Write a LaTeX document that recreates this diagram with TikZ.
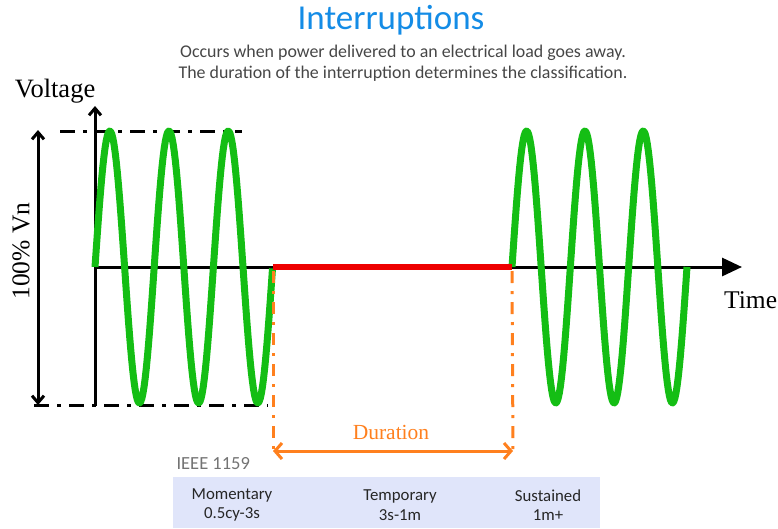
\documentclass[tikz,border=0pt]{standalone}
\usepackage{fontspec}
\setmainfont{Liberation Serif}
\setsansfont{Carlito}
\usepackage{tikz}
\usetikzlibrary{calc, positioning, arrows.meta}
\definecolor{wavegreen}{RGB}{20,190,20}
\definecolor{gapred}{RGB}{238,0,0}
\definecolor{durorange}{RGB}{255,128,30}
\definecolor{titleblue}{RGB}{20,140,230}
\definecolor{boxblue}{RGB}{224,229,250}
\definecolor{subgray}{RGB}{70,70,70}

\begin{document}
\begin{tikzpicture}[x=1pt, y=-1pt,
    axis/.style={line width=3pt, black},
    wave/.style={line width=7pt, wavegreen, line join=round},
    level/.style={line width=3pt, dash pattern=on 15pt off 8pt on 4pt off 8pt},
    marker/.style={line width=3pt, durorange, dash pattern=on 12pt off 8pt on 3pt off 8pt},
    serifl/.style={font=\fontsize{26.5}{28}\selectfont},
    boxtext/.style={font=\sffamily\fontsize{16.8}{19.5}\selectfont, align=center, text=black!85}]
    \useasboundingbox (0,0) rectangle (778,528);

    % Title
    \node[font=\sffamily\fontsize{35}{38}\selectfont, text=titleblue] (title) at (391,20) {Interruptions};
    \node[font=\sffamily\fontsize{17.9}{21.5}\selectfont, text=subgray, align=center] (sub) at (403,63)
        {Occurs when power delivered to an electrical load goes away.\\
         The duration of the interruption determines the classification.};

    % Axes
    \coordinate (O) at (95,267);
    \coordinate (ytop) at (95,106);
    \coordinate (ybot) at (95,406);
    \coordinate (xend) at (742,267);
    \draw[axis] (ybot) -- (O);
    \draw[axis, -{Straight Barb[length=7pt, width=12pt]}] (O) -- (ytop);
    \draw[axis, -{Triangle[length=20pt, width=18pt]}] (O) -- (xend);
    \node[serifl, anchor=base] (vlabel) at (55,97) {Voltage};
    \node[anchor=base west, inner sep=0pt, font=\fontsize{25.5}{27}\selectfont] (tlabel) at (724,308) {Time};

    % Levels
    \coordinate (topl) at (60,131);
    \coordinate (topr) at (242,131);
    \coordinate (botl) at (34,405);
    \coordinate (botr) at (268,405);
    \draw[level] (topl) -- (topr);
    \draw[level] (botl) -- (botr);
    \coordinate (vnt) at (38,130);
    \coordinate (vnb) at (38,405);
    \draw[axis, {Straight Barb[length=7pt, width=12pt]}-{Straight Barb[length=7pt, width=12pt]}] (vnb) -- (vnt);
    \node[rotate=90, font=\fontsize{25.5}{27}\selectfont] (vn) at (21,251) {100\% Vn};

    % Waves and interruption
    \coordinate (cut) at (273,267);
    \coordinate (back) at (512,267);
    \draw[wave] plot[domain=95:272.5, samples=160] (\x, {267-136*sin((\x-95)/59.2*360)});
    \draw[wave] plot[domain=512:687, samples=160] (\x, {267-136*sin((\x-512)/58.33*360)});
    \draw[line width=6pt, gapred] (cut) -- (back);

    % Duration
    \coordinate (cutd) at (273,451);
    \coordinate (backd) at (513,451);
    \draw[marker] ($(cut)+(0,4)$) -- (cutd);
    \draw[marker] ($(back)+(0,4)$) -- (backd);
    \draw[line width=3pt, durorange, {Straight Barb[length=7pt, width=16pt]}-{Straight Barb[length=7pt, width=16pt]}] (cutd) -- (backd);
    \node[font=\fontsize{21.5}{23}\selectfont, text=durorange] (dur) at (391,432) {Duration};

    % IEEE 1159 classes
    \node[font=\sffamily\fontsize{18.5}{20}\selectfont, text=black!55, anchor=west] (ieee) at (173,464) {IEEE 1159};
    \fill[boxblue] (173,477) rectangle (600,528);
    \node[boxtext] (mom) at (232,505) {Momentary\\0.5cy-3s};
    \node[boxtext] (temp) at (400,505) {Temporary\\3s-1m};
    \node[boxtext] (sus) at (548,505) {Sustained\\1m+};
\end{tikzpicture}
\end{document}
